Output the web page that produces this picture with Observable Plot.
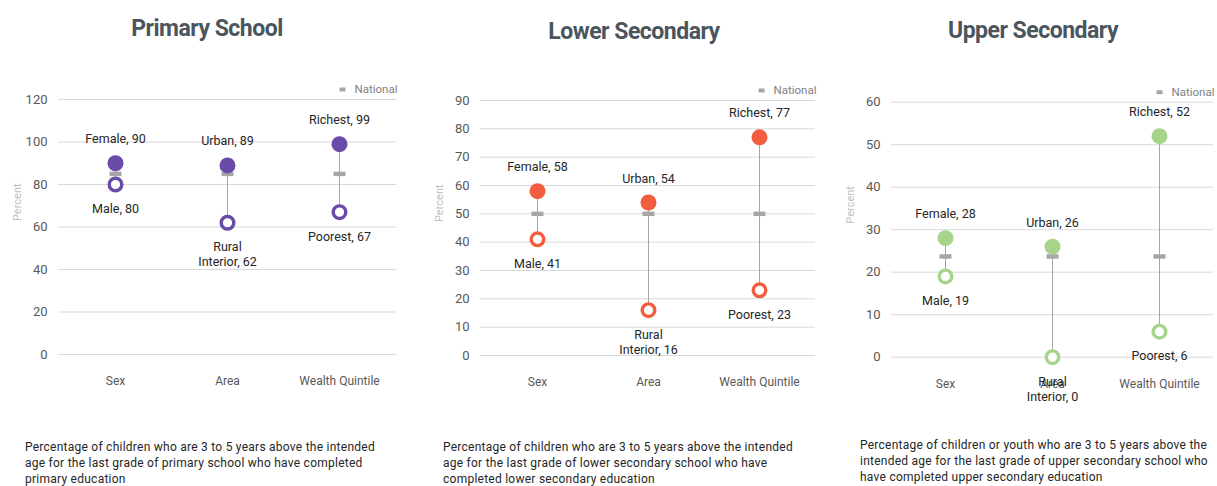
<!DOCTYPE html>
<html>
<head>
<meta charset="utf-8">
<script src="https://cdn.jsdelivr.net/npm/d3@7"></script>
<script src="https://cdn.jsdelivr.net/npm/@observablehq/plot@0.6"></script>
<style>
  html, body { margin: 0; padding: 0; background: #fff; }
  #page { position: relative; width: 1217px; height: 486px; overflow: hidden; font-family: Roboto, "Noto Sans", sans-serif; }
  .panel { position: absolute; top: 0; height: 486px; }
  .title { position: absolute; transform: translate(-50%, -50%); white-space: nowrap;
           font-family: Roboto, sans-serif; font-weight: 700; font-size: 23px; letter-spacing: -0.5px; color: #4b555d; }
  .chart { position: absolute; top: 60px; left: 0; }
  .caption { position: absolute; font-size: 12px; line-height: 16px; color: #262626; white-space: nowrap; letter-spacing: 0.25px; }
  svg { overflow: visible; }
</style>
</head>
<body>
<div id="page"></div>
<script>
// Completion-rate gaps by sex, area and wealth, one panel per school level
const dimensions = ["Sex", "Area", "Wealth Quintile"];
const highGroups = ["Female", "Urban", "Richest"];
const lowGroups = ["Male", "Rural\nInterior", "Poorest"];

const primaryHigh = [90, 89, 99];
const primaryLow = [80, 62, 67];
const primaryNational = 85;
const primaryTicks = [0, 20, 40, 60, 80, 100, 120];

const lowerHigh = [58, 54, 77];
const lowerLow = [41, 16, 23];
const lowerNational = 50;
const lowerTicks = [0, 10, 20, 30, 40, 50, 60, 70, 80, 90];

const upperHigh = [28, 26, 52];
const upperLow = [19, 0, 6];
const upperNational = 23.7;
const upperTicks = [0, 10, 20, 30, 40, 50, 60];

const titles = ["Primary School", "Lower Secondary", "Upper Secondary"];
const colors = ["#6a4ba8", "#f25c3f", "#a6d48a"];
const captions = [
  ["Percentage of children who are 3 to 5 years above the intended",
   "age for the last grade of primary school who have completed",
   "primary education"],
  ["Percentage of children who are 3 to 5 years above the intended",
   "age for the last grade of lower secondary school who have",
   "completed lower secondary education"],
  ["Percentage of children or youth who are 3 to 5 years above the",
   "intended age for the last grade of upper secondary school who",
   "have completed upper secondary education"]
];

// panel geometry
const panels = [
  {left: 0,   width: 410, ml: 58, mr: 14, mt: 39,   mb: 46,   titleX: 207, titleY: 28, capX: 25,  capY: 439,
   high: primaryHigh, low: primaryLow, national: primaryNational, ticks: primaryTicks},
  {left: 410, width: 410, ml: 70, mr: 5,  mt: 40,   mb: 45,   titleX: 224, titleY: 31, capX: 33,  capY: 439,
   high: lowerHigh, low: lowerLow, national: lowerNational, ticks: lowerTicks},
  {left: 820, width: 397, ml: 71, mr: 4,  mt: 41.7, mb: 43.3, titleX: 213, titleY: 30, capX: 40,  capY: 437,
   high: upperHigh, low: upperLow, national: upperNational, ticks: upperTicks}
];

// short horizontal bar used for the national marker and its legend key
const dash = (w, h) => ({draw(ctx) { ctx.rect(-w / 2, -h / 2, w, h); }});

const page = document.getElementById("page");

panels.forEach((p, k) => {
  const div = document.createElement("div");
  div.className = "panel";
  div.style.left = p.left + "px";
  div.style.width = p.width + "px";

  const t = document.createElement("div");
  t.className = "title";
  t.style.left = p.titleX + "px";
  t.style.top = p.titleY + "px";
  t.textContent = titles[k];
  div.appendChild(t);

  const rows = dimensions.map((d, i) => ({
    dim: d,
    high: p.high[i],
    low: p.low[i],
    national: p.national,
    highLabel: `${highGroups[i]}, ${p.high[i]}`,
    lowLabel: `${lowGroups[i]}, ${p.low[i]}`
  }));

  const color = colors[k];
  const chart = Plot.plot({
    width: p.width,
    height: 340,
    marginLeft: p.ml,
    marginRight: p.mr,
    marginTop: p.mt,
    marginBottom: p.mb,
    style: {fontFamily: "Roboto, sans-serif", fontSize: "12px", overflow: "visible", background: "transparent"},
    x: {type: "point", domain: dimensions, padding: 0.5},
    y: {domain: [0, d3.max(p.ticks)]},
    marks: [
      Plot.ruleY(p.ticks, {stroke: "#d9d9d9", strokeWidth: 1}),
      Plot.axisY({ticks: p.ticks, tickSize: 0, tickPadding: 11, label: null, fill: "#595959", fontSize: 13}),
      Plot.axisX({tickSize: 0, tickPadding: 22, label: null, fill: "#595959", fontSize: 12}),
      Plot.text(["Percent"], {frameAnchor: "left", rotate: -90, dx: -41, dy: -6, fill: "#bfbfbf", fontSize: 11}),
      // legend
      Plot.dot([0], {frameAnchor: "top-right", dx: -54, dy: -10, symbol: dash(6, 4), fill: "#a6a6a6", stroke: "none"}),
      Plot.text(["National"], {frameAnchor: "top-right", textAnchor: "end", lineAnchor: "middle", dx: 1, dy: -10, fill: "#7f7f7f", fontSize: 11.5}),
      // gap between the two groups
      Plot.ruleX(rows, {x: "dim", y1: "low", y2: "high", stroke: "#a6a6a6", strokeWidth: 1}),
      // national average
      Plot.dot(rows, {x: "dim", y: "national", symbol: dash(12, 4.5), fill: "#a6a6a6", stroke: "none"}),
      // advantaged group (filled) and disadvantaged group (hollow)
      Plot.dot(rows, {x: "dim", y: "high", r: 8, fill: color, stroke: "none"}),
      Plot.dot(rows, {x: "dim", y: "low", r: 6.3, fill: "#fff", stroke: color, strokeWidth: 3.4}),
      Plot.text(rows, {x: "dim", y: "high", text: "highLabel", dy: -24, fill: "#262626", fontSize: 12.5}),
      Plot.text(rows, {x: "dim", y: "low", text: "lowLabel", lineAnchor: "top", lineHeight: 1.2, dy: 18, fill: "#262626", fontSize: 12.5})
    ]
  });
  chart.classList.add("chart");
  div.appendChild(chart);

  const cap = document.createElement("div");
  cap.className = "caption";
  cap.style.left = p.capX + "px";
  cap.style.top = p.capY + "px";
  cap.innerHTML = captions[k].join("<br>");
  div.appendChild(cap);

  page.appendChild(div);
});
</script>
</body>
</html>
